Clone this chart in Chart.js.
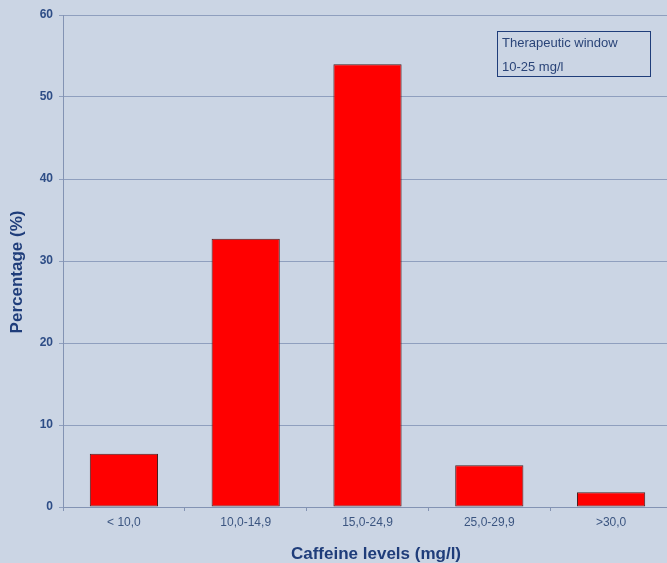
<!DOCTYPE html>
<html>
<head>
<meta charset="utf-8">
<script src="https://cdn.jsdelivr.net/npm/chart.js@4"></script>
<style>
  html, body { margin: 0; padding: 0; overflow: hidden; background: #cbd5e4; }
  #wrap { width: 672px; height: 563px; }
</style>
</head>
<body>
<div id="wrap"><canvas id="chart" width="672" height="563"></canvas></div>
<script>
const categories = ['< 10,0', '10,0-14,9', '15,0-24,9', '25,0-29,9', '>30,0'];
const percentages = [6.5, 32.7, 54, 5.1, 1.8];
const yTicks = [0, 10, 20, 30, 40, 50, 60];
const boxLines = ['Therapeutic window', '10-25 mg/l'];
const xTitle = 'Caffeine levels (mg/l)';
const yTitle = 'Percentage (%)';

const FONT = '"Liberation Sans", Arial, sans-serif';

// axis titles and the note box drawn on top of the chart
const extras = {
  id: 'extras',
  afterDraw(chart) {
    const ctx = chart.ctx;
    ctx.save();
    ctx.fillStyle = '#1f3d7a';
    ctx.font = 'bold 17px ' + FONT;
    ctx.textAlign = 'center';
    ctx.textBaseline = 'middle';
    ctx.fillText(xTitle, 376, 554);
    ctx.translate(17, 272);
    ctx.rotate(-Math.PI / 2);
    ctx.fillText(yTitle, 0, 0);
    ctx.restore();

    ctx.save();
    ctx.strokeStyle = '#1f3d7a';
    ctx.lineWidth = 1;
    ctx.strokeRect(497.5, 31.5, 153, 45);
    ctx.fillStyle = '#2a4478';
    ctx.font = '13px ' + FONT;
    ctx.textBaseline = 'middle';
    ctx.fillText(boxLines[0], 502, 43);
    ctx.fillText(boxLines[1], 502, 67);
    ctx.restore();
  }
};

new Chart(document.getElementById('chart').getContext('2d'), {
  type: 'bar',
  data: {
    labels: categories,
    datasets: [{
      data: percentages,
      backgroundColor: '#ff0000',
      borderColor: '#4a2020',
      borderWidth: 1,
      borderSkipped: false,
      barPercentage: 0.56,
      categoryPercentage: 1
    }]
  },
  options: {
    responsive: false,
    animation: false,
    layout: { padding: { top: 15, left: 0, right: 0, bottom: 0 } },
    plugins: { legend: { display: false }, tooltip: { enabled: false } },
    scales: {
      x: {
        afterFit(scale) { scale.height = 56; },
        grid: { offset: true, drawOnChartArea: false, tickLength: 4, color: '#8393b3' },
        border: { color: '#8393b3', width: 1 },
        ticks: { color: '#3b5580', font: { family: FONT, size: 12 }, padding: 4 }
      },
      y: {
        min: 0,
        max: 60,
        afterFit(scale) { scale.width = 63; },
        afterBuildTicks(scale) { scale.ticks = yTicks.map(v => ({ value: v })); },
        grid: { color: '#8f9fbe', tickLength: 4 },
        border: { color: '#8393b3', width: 1 },
        ticks: { color: '#2e4d86', font: { family: FONT, size: 12, weight: 'bold' }, padding: 6 }
      }
    }
  },
  plugins: [extras]
});
</script>
</body>
</html>
